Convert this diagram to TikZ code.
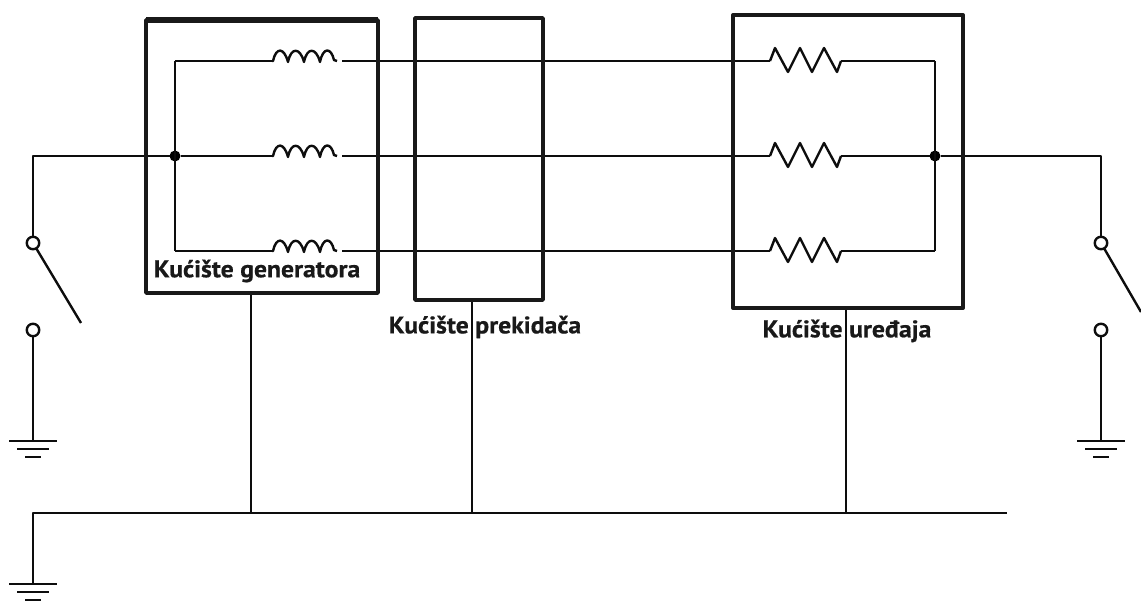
\documentclass[tikz,border=0pt]{standalone}
\usepackage{fontspec}
\setmainfont{PT Sans}[FakeStretch=1.07,BoldFeatures={FakeBold=0.6}]
\tikzset{
  wire/.style={draw=black!95,line width=2.4pt,line join=round},
  housing/.style={draw=black!90,line width=3.6pt,line join=round,line cap=round},
  gbar/.style={draw=black!95,line width=2.6pt},
  contact/.style={circle,draw=black!95,line width=2.4pt,fill=white,minimum size=12.5pt,inner sep=0pt,outer sep=0pt},
  junction/.style={circle,fill=black,minimum size=11pt,inner sep=0pt,outer sep=0pt},
  caption/.style={font=\fontsize{24}{26}\selectfont\bfseries,text=black!90,inner sep=0pt},
  pics/inductor/.style={code={
    \draw[wire] (0,0) -- (1,0)
      .. controls (4,-14) and (12,-14) .. (16,1)
      .. controls (19,-14) and (28,-14) .. (32,1)
      .. controls (35,-14) and (44,-14) .. (48,1)
      .. controls (51,-14) and (59,-14) .. (62,-1)
      -- (65,0);
  }},
  pics/resistor/.style={code={
    \draw[wire] (0,0) -- (5,-13) -- (18,11) -- (30,-13) -- (42,11) -- (54,-13) -- (67,11) -- (71,0);
  }},
  pics/earth/.style={code={
    \draw[gbar] (-24,0) -- (24,0);
    \draw[gbar] (-16,8) -- (16,8);
    \draw[gbar] (-8,16) -- (8,16);
  }}
}
\begin{document}
\begin{tikzpicture}[x=1pt,y=-1pt]
\useasboundingbox (0,0) rectangle (1141,601);
% housings
\coordinate (g1) at (146,20); \coordinate (g2) at (378,293);
\coordinate (p1) at (415,18); \coordinate (p2) at (543,300);
\coordinate (u1) at (733,15); \coordinate (u2) at (963,308);
% junctions and points
\node[junction] (jl) at (175,156) {};
\node[junction] (jr) at (935,156) {};
\coordinate (tl) at (175,61); \coordinate (bl) at (175,251);
\coordinate (tr) at (935,61); \coordinate (br) at (935,251);
\coordinate (i1a) at (272,61); \coordinate (i1b) at (342,61);
\coordinate (i2a) at (272,156); \coordinate (i2b) at (342,156);
\coordinate (i3a) at (272,251); \coordinate (i3b) at (342,251);
\coordinate (r1a) at (770,61); \coordinate (r1b) at (841,61);
\coordinate (r2a) at (770,156); \coordinate (r2b) at (841,156);
\coordinate (r3a) at (770,251); \coordinate (r3b) at (841,251);
% switches
\node[contact] (sl1) at (33,243) {};
\node[contact] (sl2) at (33,330) {};
\node[contact] (sr1) at (1101,243) {};
\node[contact] (sr2) at (1101,330) {};
\coordinate (ll) at (81,323); \coordinate (lr) at (1141,312);
\coordinate (el) at (33,441); \coordinate (er) at (1101,441);
\coordinate (cl) at (33,156); \coordinate (cr) at (1101,156);
% bus
\coordinate (b0) at (33,513); \coordinate (b1) at (1007,513);
\coordinate (e0) at (33,584);
\coordinate (v1) at (251,513); \coordinate (v2) at (472,513);
\coordinate (v3) at (846,513);
\coordinate (t1) at (251,293); \coordinate (t2) at (472,300); \coordinate (t3) at (846,308);
% wires
\draw[wire] (tl) -- (bl);
\draw[wire] (tr) -- (br);
\draw[wire] (tl) -- (i1a); \draw[wire] (bl) -- (i3a); \draw[wire] (jl) -- (i2a);
\draw[wire] (i1b) -- (r1a); \draw[wire] (i2b) -- (r2a); \draw[wire] (i3b) -- (r3a);
\draw[wire] (r1b) -- (tr); \draw[wire] (r2b) -- (jr); \draw[wire] (r3b) -- (br);
\pic at (i1a) {inductor}; \pic at (i2a) {inductor}; \pic at (i3a) {inductor};
\pic at (r1a) {resistor}; \pic at (r2a) {resistor}; \pic at (r3a) {resistor};
\draw[wire] (jl) -- (cl) -- (sl1);
\draw[wire] (jr) -- (cr) -- (sr1);
\draw[wire] (sl1) -- (ll);
\draw[wire] (sr1) -- (lr);
\draw[wire] (sl2) -- (el);
\draw[wire] (sr2) -- (er);
\pic at (el) {earth}; \pic at (er) {earth}; \pic at (e0) {earth};
\draw[wire] (e0) -- (b0) -- (b1);
\draw[wire] (t1) -- (v1); \draw[wire] (t2) -- (v2); \draw[wire] (t3) -- (v3);
% housings drawn over the wires
\draw[housing] (g1) rectangle (g2);
\draw[draw=black!90,line width=6.5pt] (g1) -- (g1 -| g2);
\draw[housing] (p1) rectangle (p2);
\draw[housing,line width=4pt] (u1) rectangle (u2);
% captions
\node[caption] (cg) at (257,271) {Kućište generatora};
\node[caption] (cp) at (485,327) {Kućište prekidača};
\node[caption] (cu) at (847,331) {Kućište uređaja};
\end{tikzpicture}
\end{document}
